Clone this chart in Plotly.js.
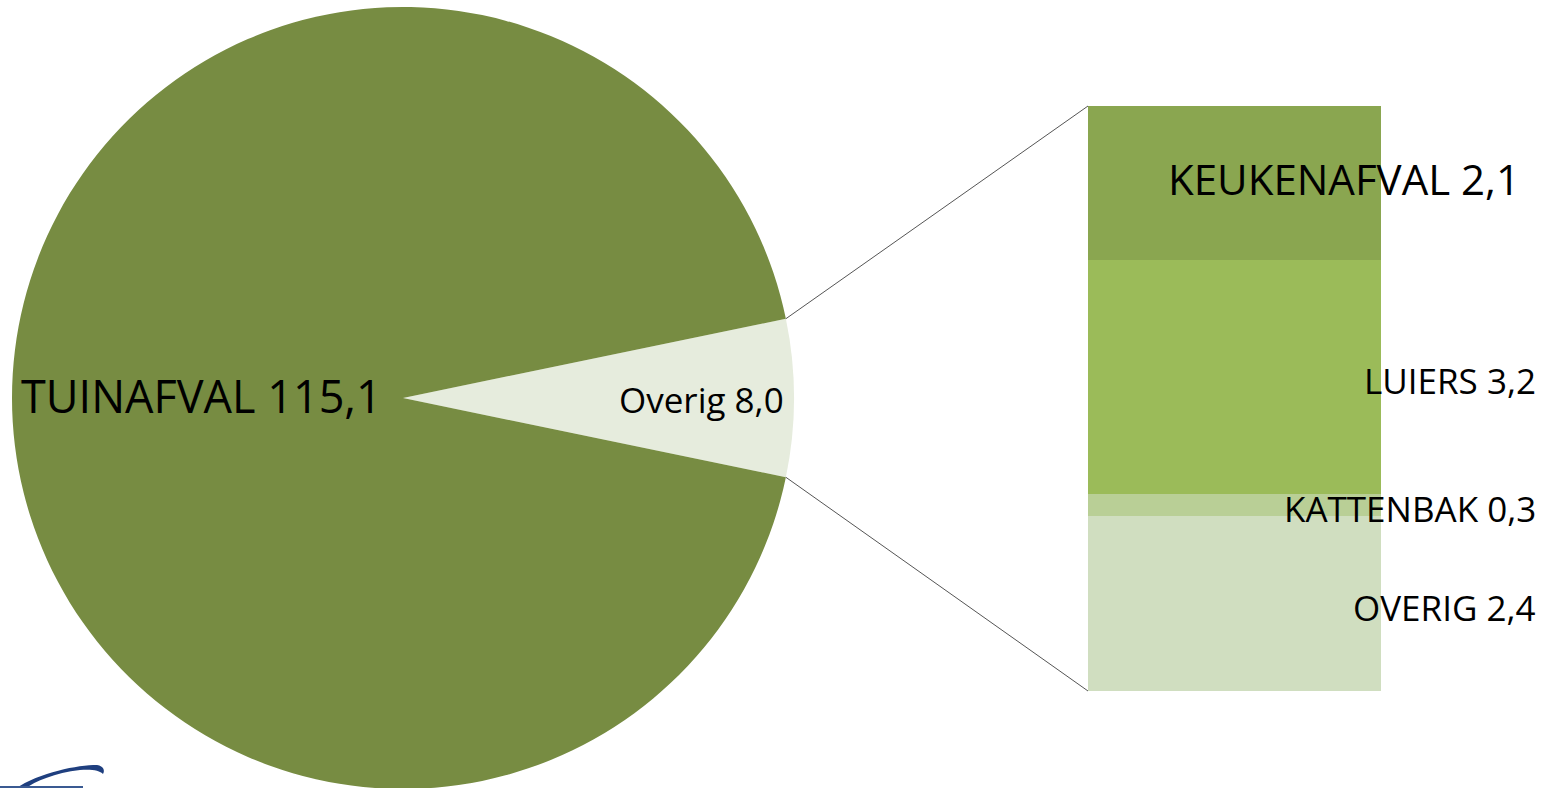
<!DOCTYPE html>
<html>
<head>
<meta charset="utf-8">
<script src="https://cdn.plot.ly/plotly-3.0.1.min.js"></script>
<style>
  html, body { margin: 0; padding: 0; overflow: hidden; background: #ffffff; }
  #chart { width: 1551px; height: 800px; }
</style>
</head>
<body>
<div id="chart"></div>
<script>
// ---- data ----
const pieLabels = ["Overig", "TUINAFVAL"];
const pieValues = [8.0, 115.1];
const pieColors = ["#E6ECDD", "#778C42"];

// stacked bar, bottom to top
const barLabels = ["OVERIG", "KATTENBAK", "LUIERS", "KEUKENAFVAL"];
const barValues = [2.4, 0.3, 3.2, 2.1];
const barColors = ["#D0DEC0", "#B9CF96", "#9BBB59", "#8AA650"];

// ---- layout constants ----
const W = 1551, H = 800, MT = 7, MB = 11;
const plotH = H - MT - MB;           // 782
const fx = px => px / W;
const fy = py => (H - MB - py) / plotH;

const fmt = v => v.toFixed(1).replace('.', ',');

const pieDomX = [fx(12), fx(794)];
const barDomX = [fx(1088), fx(1381)];
const barDomY = [fy(691), fy(106)];

const pieTotal = pieValues.reduce((a, b) => a + b, 0);
const halfDeg = 180 * pieValues[0] / pieTotal;

const barTotal = barValues.reduce((a, b) => a + b, 0);

const traces = [{
  type: 'pie',
  labels: pieLabels,
  values: pieValues,
  sort: false,
  direction: 'clockwise',
  rotation: 90 - halfDeg,
  marker: { colors: pieColors, line: { width: 0 } },
  textinfo: 'none',
  hoverinfo: 'label+value',
  domain: { x: pieDomX, y: [0, 1] },
  showlegend: false
}];

barLabels.forEach((lab, i) => {
  traces.push({
    type: 'bar',
    x: [0],
    y: [barValues[i]],
    width: 1,
    name: lab,
    marker: { color: barColors[i], line: { width: 0 } },
    xaxis: 'x', yaxis: 'y',
    showlegend: false,
    hoverinfo: 'name+y'
  });
});

// pie geometry in pixels
const cxPx = 403, cyPx = 398, rPx = 391;
const a = halfDeg * Math.PI / 180;
const topPt = [cxPx + rPx * Math.cos(a), cyPx - rPx * Math.sin(a)];
const botPt = [cxPx + rPx * Math.cos(a), cyPx + rPx * Math.sin(a)];

const shapes = [
  { type: 'line', xref: 'paper', yref: 'paper',
    x0: fx(topPt[0]), y0: fy(topPt[1]), x1: barDomX[0], y1: barDomY[1],
    line: { color: '#555555', width: 1 } },
  { type: 'line', xref: 'paper', yref: 'paper',
    x0: fx(botPt[0]), y0: fy(botPt[1]), x1: barDomX[0], y1: barDomY[0],
    line: { color: '#555555', width: 1 } },
  // logo fragment, bottom-left
  { type: 'path', xref: 'paper', yref: 'paper',
    path: `M ${fx(15)} ${fy(789)} C ${fx(40)} ${fy(772)} ${fx(78)} ${fy(765)} ${fx(97)} ${fy(765)} ` +
          `C ${fx(104)} ${fy(766)} ${fx(105)} ${fy(771)} ${fx(103)} ${fy(774)} ` +
          `C ${fx(100)} ${fy(770)} ${fx(90)} ${fy(769)} ${fx(80)} ${fy(770)} ` +
          `C ${fx(55)} ${fy(773)} ${fx(35)} ${fy(781)} ${fx(25)} ${fy(789)} Z`,
    fillcolor: '#1F3F7F', line: { width: 0 } },
  { type: 'line', xref: 'paper', yref: 'paper',
    x0: 0, y0: fy(787), x1: fx(83), y1: fy(787),
    line: { color: '#3A5A92', width: 2 } }
];

// bar labels at segment mid-heights
const barFont = [35, 35, 35, 42];
const barRight = [1538, 1538, 1538, 1522];
const barShift = [-4, -4, -4, 4];
const annotations = [];
let cum = 0;
barLabels.forEach((lab, i) => {
  const mid = cum + barValues[i] / 2;
  cum += barValues[i];
  annotations.push({
    xref: 'paper', yref: 'y', x: fx(barRight[i]), y: mid, yshift: barShift[i],
    xanchor: 'right', yanchor: 'middle', showarrow: false,
    text: lab + ' ' + fmt(barValues[i]),
    font: { family: 'Open Sans', size: barFont[i], color: '#000000' }
  });
});
annotations.push({
  xref: 'paper', yref: 'paper', x: fx(19), y: fy(396),
  xanchor: 'left', yanchor: 'middle', showarrow: false,
  text: pieLabels[1] + ' ' + fmt(pieValues[1]),
  font: { family: 'Open Sans', size: 45, color: '#000000' }
});
annotations.push({
  xref: 'paper', yref: 'paper', x: fx(786), y: fy(400),
  xanchor: 'right', yanchor: 'middle', showarrow: false,
  text: pieLabels[0] + ' ' + fmt(pieValues[0]),
  font: { family: 'Open Sans', size: 35, color: '#000000' }
});

const layout = {
  width: W, height: H,
  margin: { l: 0, r: 0, t: MT, b: MB, pad: 0 },
  paper_bgcolor: '#ffffff', plot_bgcolor: 'rgba(0,0,0,0)',
  barmode: 'stack',
  showlegend: false,
  xaxis: { domain: barDomX, range: [-0.5, 0.5], visible: false, fixedrange: true },
  yaxis: { domain: barDomY, range: [0, barTotal], visible: false, fixedrange: true },
  shapes: shapes,
  annotations: annotations,
  font: { family: 'Open Sans' }
};

Plotly.newPlot('chart', traces, layout, { displayModeBar: false, staticPlot: true });
</script>
</body>
</html>
